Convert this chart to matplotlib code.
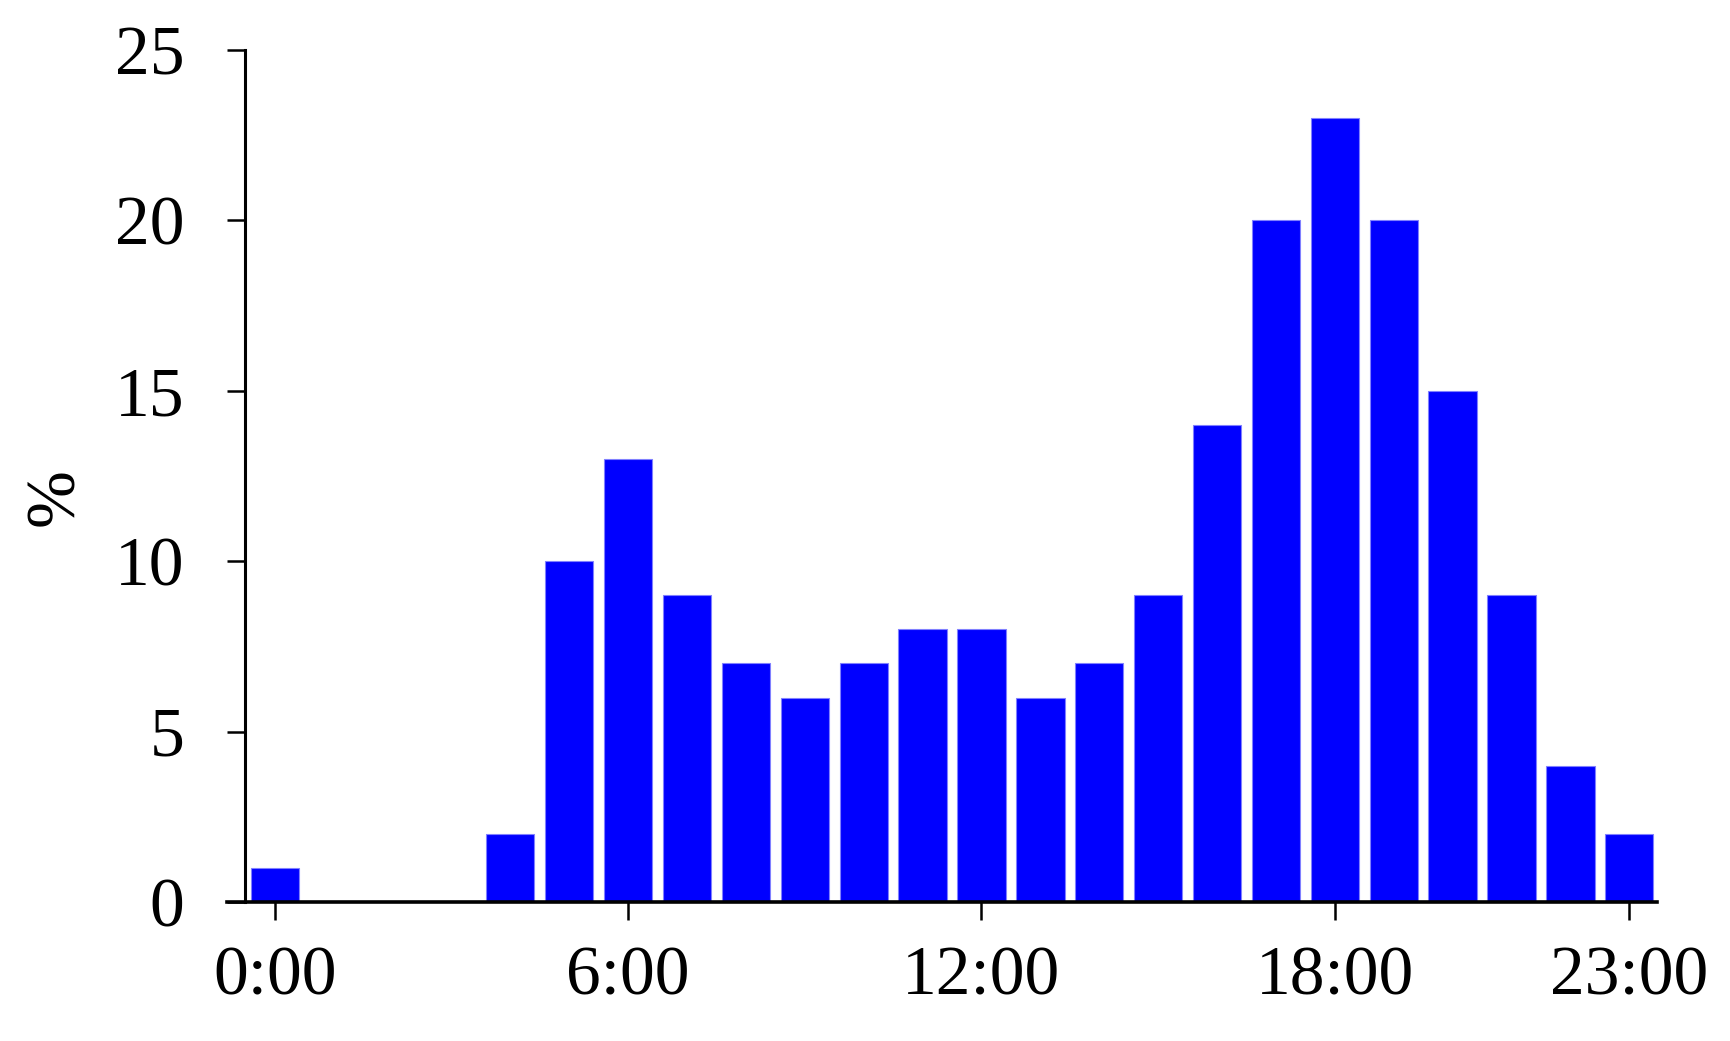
import matplotlib
matplotlib.use("Agg")
import matplotlib.pyplot as plt

hours = list(range(24))
percent = [1, 0, 0, 0, 2, 10, 13, 9, 7, 6, 7, 8, 8, 6, 7, 9, 14, 20, 23, 20, 15, 9, 4, 2]
xtick_pos = [0, 6, 12, 18, 23]
xtick_labels = ["0:00", "6:00", "12:00", "18:00", "23:00"]
ytick_pos = [0, 5, 10, 15, 20, 25]

plt.rcParams['font.family'] = ['Liberation Serif', 'DejaVu Serif']

fig = plt.figure(figsize=(17.31, 10.41), dpi=100)
ax = fig.add_axes([227/1731, 1 - 902/1041, (1657-227)/1731, (902-50)/1041])

ax.bar(hours, percent, width=0.82, color='#0000FF', edgecolor='#8080FF', linewidth=0.8)

ax.set_xlim(-0.81, 23.47)
ax.set_ylim(0, 25)
ax.set_xticks(xtick_pos)
ax.set_xticklabels(xtick_labels)
ax.set_yticks(ytick_pos)

for s in ['top', 'right']:
    ax.spines[s].set_visible(False)
ax.spines['left'].set_position(('data', -0.5))
ax.spines['left'].set_linewidth(2.2)
ax.spines['bottom'].set_linewidth(2.6)

ax.tick_params(axis='both', direction='out', length=13, width=1.8, labelsize=50, color='black')
ax.tick_params(axis='x', pad=19)
ax.tick_params(axis='y', pad=31)

ax.set_ylabel('%', fontsize=50)
ax.yaxis.set_label_coords(-0.097, 0.475)

fig.savefig('out.png', dpi=100)
